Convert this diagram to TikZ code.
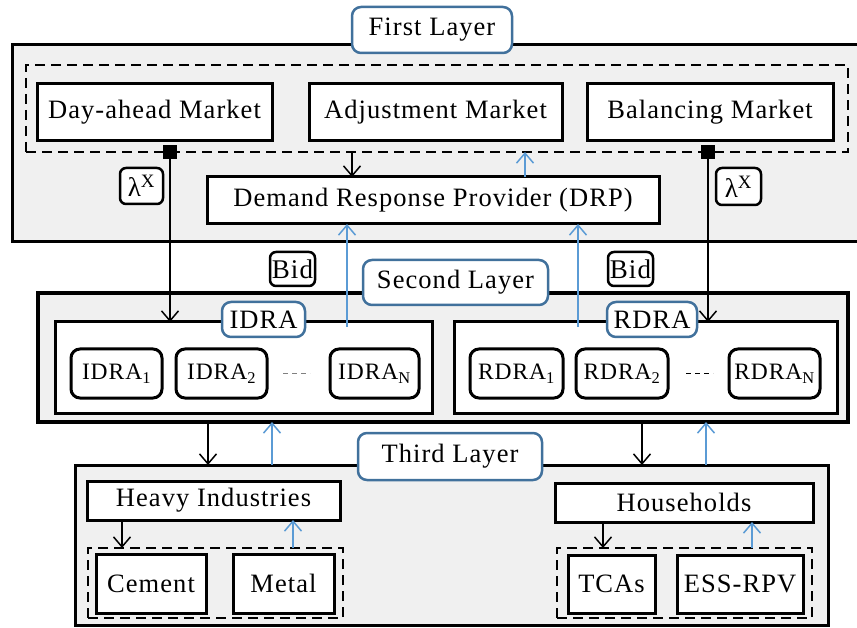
\documentclass[tikz,border=0pt]{standalone}
\usepackage{fontspec}
\setmainfont{Liberation Serif}[LetterSpace=4]
\usetikzlibrary{arrows.meta}
\definecolor{laygray}{HTML}{F0F0F0}
\definecolor{lblue}{HTML}{41719C}
\definecolor{abl}{HTML}{5B9BD5}
\begin{document}
\begin{tikzpicture}[x=1pt,y=-1pt,
  every node/.style={inner sep=0pt, outer sep=0pt, font=\fontsize{26.5}{30}\selectfont},
  layer/.style={draw=black, line width=3pt, fill=laygray},
  grp/.style={draw=black, line width=2.5pt, dash pattern=on 10pt off 6pt},
  box/.style={draw=black, line width=3pt, fill=white},
  lbl/.style={draw=lblue, line width=2.5pt, fill=white, rounded corners=9pt},
  agent/.style={draw=black, line width=3pt, fill=white, rounded corners=9pt, font=\fontsize{23.5}{26}\selectfont},
  tag/.style={draw=black, line width=2.5pt, fill=white, rounded corners=6pt, font=\fontsize{27}{30}\selectfont},
  sq/.style={fill=black, minimum size=14pt},
  darr/.style={draw=black, line width=1.5pt, -{Straight Barb[length=10pt,width=17pt]}},
  uarr/.style={draw=abl, line width=1.5pt, -{Straight Barb[length=10pt,width=17pt]}},
  dotsline/.style={draw=gray, line width=1.5pt, dash pattern=on 5pt off 4pt}
]
\useasboundingbox (0,0) rectangle (857,628);
\clip (0,0) rectangle (857,628);

% ---------- First layer ----------
\node[layer, minimum width=868pt, minimum height=197pt] (L1) at (446,143.5) {};
\node[grp, minimum width=822pt, minimum height=87pt] (D1) at (437,108.5) {};
\node[box, minimum width=235pt, minimum height=57pt] (DAM) at (154.5,112.5) {Day-ahead Market};
\node[box, minimum width=253pt, minimum height=57pt] (AM) at (435.5,112.5) {Adjustment Market};
\node[box, minimum width=246pt, minimum height=57pt] (BM) at (710,112.5) {Balancing Market};
\node[box, minimum width=452pt, minimum height=47pt] (DRP) at (433,200.5) {Demand Response Provider (DRP)};
\node[lbl, minimum width=160pt, minimum height=46pt] (T1) at (432,30) {First Layer};
\node[tag, minimum width=43pt, minimum height=36pt] (lamL) at (141.5,186) {λ\textsuperscript{X}};
\node[tag, minimum width=45pt, minimum height=37pt] (lamR) at (738.5,186.5) {λ\textsuperscript{X}};
\node[sq] (sqL) at (170,152) {};
\node[sq] (sqR) at (708,152) {};

% ---------- Second layer ----------
\node[layer, line width=4pt, minimum width=810pt, minimum height=129pt] (L2) at (443,357.5) {};
\node[tag, minimum width=45pt, minimum height=34pt] (bidL) at (292.5,269) {Bid};
\node[tag, minimum width=45pt, minimum height=34pt] (bidR) at (630.5,269) {Bid};
\node[lbl, minimum width=185pt, minimum height=45pt] (T2) at (455.5,282.5) {Second Layer};

\node[box, minimum width=377pt, minimum height=91pt] (IDRA) at (243.5,367.5) {};
\node[lbl, minimum width=83pt, minimum height=35pt] (IDRAl) at (263.5,319.5) {IDRA};
\node[agent, minimum width=91pt, minimum height=49pt] (I1) at (116.5,373.5) {IDRA\textsubscript{1}};
\node[agent, minimum width=91pt, minimum height=49pt] (I2) at (221.5,373.5) {IDRA\textsubscript{2}};
\node[agent, minimum width=89pt, minimum height=49pt] (IN) at (374.5,373.5) {IDRA\textsubscript{N}};

\node[box, minimum width=383pt, minimum height=91pt] (RDRA) at (645.5,367.5) {};
\node[lbl, minimum width=90pt, minimum height=35pt] (RDRAl) at (652,319.5) {RDRA};
\node[agent, minimum width=93pt, minimum height=49pt] (R1) at (516.5,373.5) {RDRA\textsubscript{1}};
\node[agent, minimum width=92pt, minimum height=49pt] (R2) at (622,373.5) {RDRA\textsubscript{2}};
\node[agent, minimum width=91pt, minimum height=49pt] (RN) at (774.5,373.5) {RDRA\textsubscript{N}};

\draw[dotsline, shorten <=16pt, shorten >=20pt] (I2.east) -- (IN.west);
\draw[dotsline, draw=black, shorten <=18pt, shorten >=16pt] (R2.east) -- (RN.west);

% ---------- Third layer ----------
\node[layer, minimum width=753pt, minimum height=160pt] (L3) at (451.5,545) {};
\node[lbl, minimum width=184pt, minimum height=47pt] (T3) at (450,456.5) {Third Layer};
\node[box, minimum width=253pt, minimum height=39pt] (HI) at (213.5,500.5) {Heavy Industries};
\node[grp, minimum width=255pt, minimum height=70pt] (D3a) at (215.5,583) {};
\node[box, minimum width=110pt, minimum height=59pt] (CEM) at (151,583.5) {Cement};
\node[box, minimum width=101pt, minimum height=59pt] (MET) at (283.5,583.5) {Metal};
\node[box, minimum width=258pt, minimum height=39pt] (HH) at (684,502.5) {Households};
\node[grp, minimum width=255pt, minimum height=70pt] (D3b) at (684.5,583) {};
\node[box, minimum width=87pt, minimum height=58pt] (TCA) at (611.5,584) {TCAs};
\node[box, minimum width=126pt, minimum height=58pt] (ESS) at (740,584) {ESS-RPV};

% ---------- x positions of connectors ----------
\coordinate (xa) at (352,0);
\coordinate (xb) at (525,0);
\coordinate (xc) at (347,0);
\coordinate (xd) at (578,0);
\coordinate (xe) at (208,0);
\coordinate (xf) at (272,0);
\coordinate (xg) at (642,0);
\coordinate (xh) at (706,0);
\coordinate (xi) at (122,0);
\coordinate (xj) at (293,0);
\coordinate (xk) at (603,0);
\coordinate (xl) at (752,0);

% ---------- connectors ----------
\draw[darr] (D1.south -| xa) -- (DRP.north -| xa);
\draw[uarr] (DRP.north -| xb) -- (D1.south -| xb);
\draw[darr] (sqL.center) -- (IDRA.north -| sqL.center);
\draw[darr] (sqR.center) -- (RDRA.north -| sqR.center);
\node[sq] at (sqL) {};
\node[sq] at (sqR) {};
\draw[uarr] ([yshift=-5pt]IDRA.north -| xc) -- (DRP.south -| xc);
\draw[uarr] ([yshift=-5pt]RDRA.north -| xd) -- (DRP.south -| xd);
\draw[darr] (L2.south -| xe) -- (L3.north -| xe);
\draw[uarr] (L3.north -| xf) -- (L2.south -| xf);
\draw[darr] (L2.south -| xg) -- (L3.north -| xg);
\draw[uarr] (L3.north -| xh) -- (L2.south -| xh);
\draw[darr] (HI.south -| xi) -- (D3a.north -| xi);
\draw[uarr] (D3a.north -| xj) -- (HI.south -| xj);
\draw[darr] (HH.south -| xk) -- (D3b.north -| xk);
\draw[uarr] (D3b.north -| xl) -- (HH.south -| xl);
\end{tikzpicture}
\end{document}
